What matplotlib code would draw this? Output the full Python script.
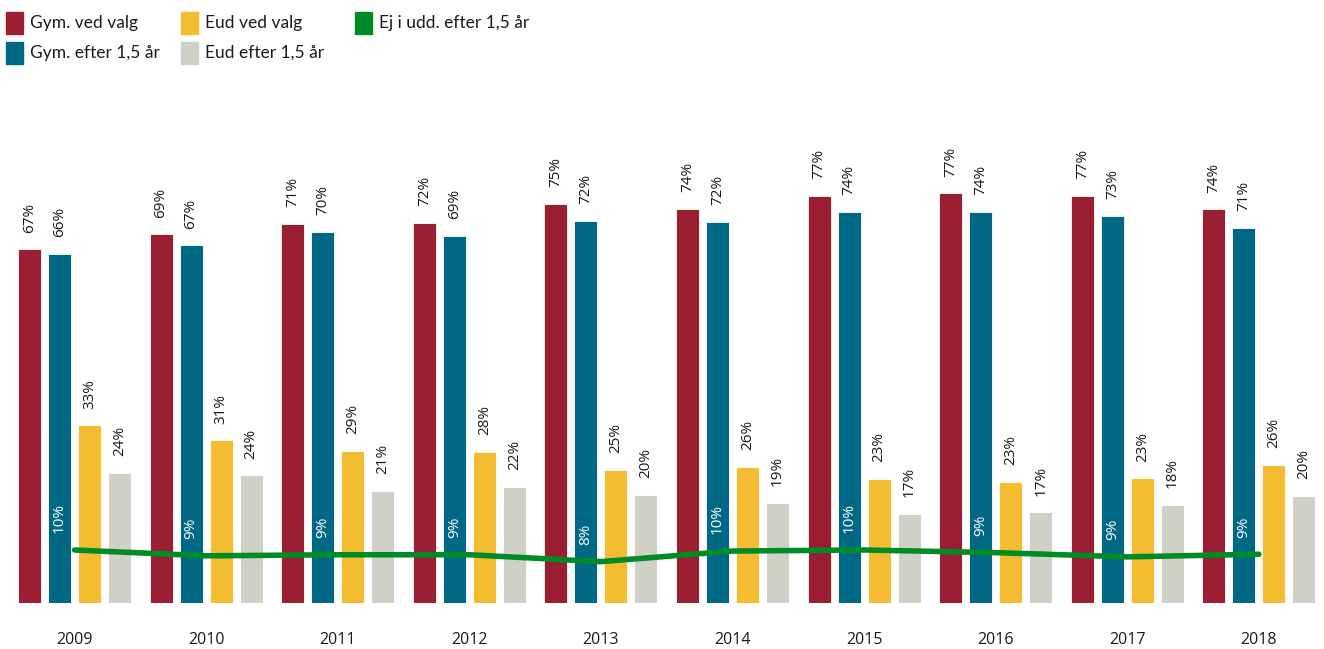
import numpy as np
import matplotlib.pyplot as plt
from matplotlib.patches import Rectangle

plt.rcParams['font.family'] = ['Open Sans', 'DejaVu Sans']

years = ['2009', '2010', '2011', '2012', '2013', '2014', '2015', '2016', '2017', '2018']
gym_valg = [66.6, 69.4, 71.4, 71.6, 75.1, 74.2, 76.7, 77.1, 76.6, 74.1]
gym_efter = [65.7, 67.3, 69.9, 69.1, 71.9, 71.7, 73.6, 73.6, 72.9, 70.6]
eud_valg = [33.4, 30.6, 28.6, 28.4, 25.0, 25.6, 23.3, 22.8, 23.4, 25.9]
eud_efter = [24.4, 24.0, 21.1, 21.8, 20.3, 18.8, 16.7, 17.0, 18.4, 20.1]
ej_udd = [9.9, 8.8, 9.0, 9.0, 7.7, 9.7, 9.9, 9.4, 8.6, 9.1]

c_red = '#9a1f32'
c_blue = '#006885'
c_yellow = '#f4bc30'
c_grey = '#cfd0c6'
c_green = '#008c25'

fig = plt.figure(figsize=(13.24, 6.49), dpi=100)
ax = fig.add_axes([0, 46.5/649, 1, 530.5/649])

x = np.arange(len(years))
step = 0.228
barWidth = 0.175
series = [(gym_valg, c_red), (gym_efter, c_blue), (eud_valg, c_yellow), (eud_efter, c_grey)]
for i, (vals, col) in enumerate(series):
    pos = x + (i - 1.5) * step
    ax.bar(pos, vals, width=barWidth, color=col, edgecolor='white', linewidth=0.6)
    for p, v in zip(pos, vals):
        ax.annotate('%.0f%%' % v, (p, v), xytext=(0, 12), textcoords='offset points',
                    rotation=90, ha='center', va='bottom', fontsize=11, color='#1a1a1a')

# line for "Ej i udd."
ax.plot(x, ej_udd, color=c_green, lw=4, solid_capstyle='round', zorder=3)
for p, v in zip(x - 0.5 * step, ej_udd):
    ax.annotate('%.0f%%' % v, (p, v), xytext=(0, 12), textcoords='offset points',
                rotation=90, ha='center', va='bottom', fontsize=11, color='white')

ax.set_xlim(-0.566, 9.495)
ax.set_ylim(0, 100)
ax.set_xticks(x)
ax.set_xticklabels(years, fontsize=11.5, color='#1a1a1a')
ax.tick_params(axis='x', length=0, pad=21)
ax.set_yticks([])
for s in ax.spines.values():
    s.set_visible(False)

# legend drawn by hand
W, H = 1324, 649
legend_items = [
    (6, 12, c_red, 'Gym. ved valg'),
    (6, 42, c_blue, 'Gym. efter 1,5 år'),
    (181, 12, c_yellow, 'Eud ved valg'),
    (181, 42, c_grey, 'Eud efter 1,5 år'),
    (355, 12, c_green, 'Ej i udd. efter 1,5 år'),
]
for lx, ly, col, lab in legend_items:
    fig.patches.append(Rectangle((lx / W, 1 - (ly + 22) / H), 17 / W, 22 / H,
                                 transform=fig.transFigure, color=col))
    fig.text((lx + 24) / W, 1 - (ly + 11) / H, lab, fontsize=12.5, va='center', ha='left',
             color='#1a1a1a', family=['Lato', 'DejaVu Sans'])

fig.savefig('out.png', dpi=100)
